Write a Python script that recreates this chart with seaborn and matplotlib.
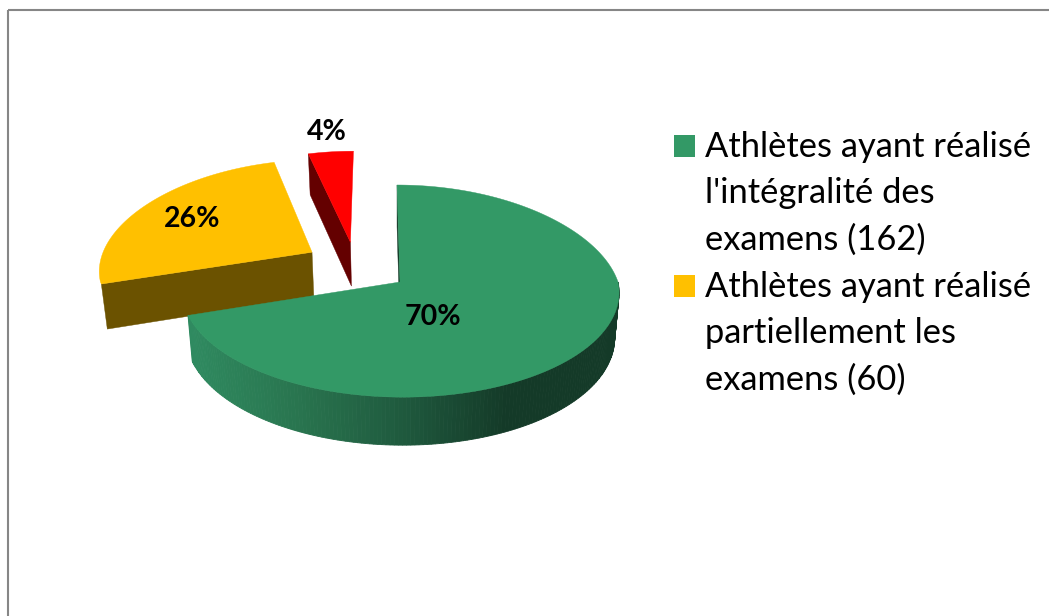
import matplotlib
matplotlib.use("Agg")
import matplotlib.pyplot as plt
from matplotlib.legend_handler import HandlerPatch
from matplotlib.patches import Patch, Rectangle
import numpy as np
import seaborn as sns

sns.set_theme(style="white")
plt.rcParams["font.family"] = ["Lato", "DejaVu Sans"]

# values
shares = [70, 26, 4]
pct_labels = ["70%", "26%", "4%"]
legend_labels = ["Athlètes ayant réalisé\nl'intégralité des\nexamens (162)",
                 "Athlètes ayant réalisé\npartiellement les\nexamens (60)"]
top_colors = ["#339966", "#FFC000", "#FF0000"]
wall_colors = ["#143A28", "#6B5200", "#640000"]

# pie layout, in pixels of the 1049x616 picture
cx, cy = 400, 282
rx, ry = 218, 105.3
persp = 0.0856
persp_x = 0.15
lean = -3
explode = [(0, 0), (-0.417, 0.29), (-0.235, 0.39)]
label_pos = [(433, 317), (192, 219), (327, 132)]


def project(xg, yg):
    xg = np.asarray(xg, dtype=float)
    yg = np.asarray(yg, dtype=float)
    dx = 1 + persp_x * np.maximum(yg, 0) + persp * np.minimum(yg, 0)
    dy = 1 + persp * yg
    return cx + rx * xg / dx + lean * yg, cy - ry * yg / dy


def project_bottom(xg, yg):
    x, y = project(xg, yg)
    return cx + (x - cx) * 0.98, y + 45 - 3 * np.asarray(yg)


class FirstLineHandler(HandlerPatch):
    # square next to the first line of a three line label
    def create_artists(self, legend, orig_handle, xdescent, ydescent,
                       width, height, fontsize, trans):
        p = Rectangle((-xdescent, -ydescent + 35), width, height,
                      facecolor=orig_handle.get_facecolor(), edgecolor="none",
                      transform=trans)
        return [p]


fig = plt.figure(figsize=(10.49, 6.16), dpi=100)
ax = fig.add_axes([0, 0, 1, 1])
ax.set_xlim(0, 1049)
ax.set_ylim(616, 0)
ax.axis("off")

# chart area border
ax.add_patch(Rectangle((7.5, 9.5), 1100, 700, fill=False,
                       edgecolor="#868686", lw=1.5))

# slice angles, clockwise from twelve o'clock
edges = np.cumsum([0] + shares) / sum(shares) * 2 * np.pi
side_ramp = sns.blend_palette(["#2F8A60", "#29754F", "#1F5A3E", "#143A28"], 100)

# draw back to front: red, orange, green
for i in [2, 1, 0]:
    a0, a1 = edges[i], edges[i + 1]
    ox, oy = explode[i]
    t = np.linspace(a0, a1, 200)
    xg = ox + np.sin(t)
    yg = oy + np.cos(t)

    if i == 0:
        # outer rim, shaded along x
        front = np.linspace(np.pi / 2, a1, 161)
        for a, b in zip(front[:-1], front[1:]):
            seg = np.linspace(a, b, 3)
            xt, yt = project(np.sin(seg), np.cos(seg))
            xb, yb = project_bottom(np.sin(seg), np.cos(seg))
            frac = np.clip((xt.mean() - 188) / (505 - 188), 0, 1)
            col = side_ramp[int(frac * 99)]
            ax.fill(np.r_[xt, xb[::-1]], np.r_[yt, yb[::-1]],
                    color=col, lw=0.6)

    # flat wall along the radial edge that faces the viewer
    ex = ox + np.sin(a0)
    ey = oy + np.cos(a0)
    tx, ty = project([ox, ex], [oy, ey])
    bx, by = project_bottom([ox, ex], [oy, ey])
    ax.fill(np.r_[tx, bx[::-1]], np.r_[ty, by[::-1]],
            color=wall_colors[i], lw=0.3)

    # top face
    fx, fy = project(np.r_[ox, xg], np.r_[oy, yg])
    ax.fill(fx, fy, color=top_colors[i], lw=0.3)

for lab, (x, y) in zip(pct_labels, label_pos):
    ax.text(x, y, lab, ha="center", va="center", fontsize=20.5,
            fontweight="bold", color="black")

handles = [Patch(facecolor=c) for c in top_colors[:2]]
ax.legend(handles, legend_labels, loc="upper left",
          bbox_to_anchor=(674 / 1049, 1 - 131 / 616), frameon=False,
          handlelength=0.61, handleheight=0.61, handletextpad=0.28,
          labelspacing=0.44, borderpad=0, borderaxespad=0,
          handler_map={Patch: FirstLineHandler()},
          prop={"size": 24.8}, labelcolor="black")
for txt in ax.get_legend().get_texts():
    txt.set_linespacing(1.55)

fig.savefig("out.png", dpi=100)
